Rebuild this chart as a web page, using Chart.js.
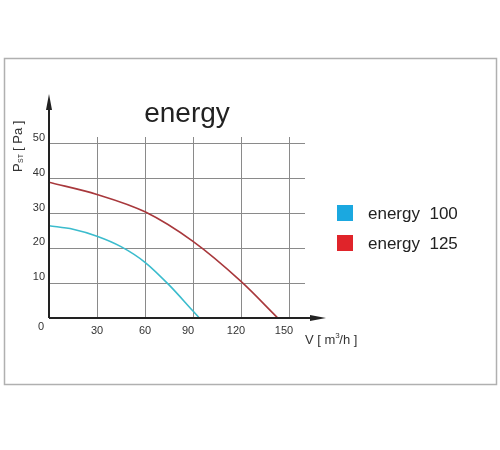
<!DOCTYPE html>
<html>
<head>
<meta charset="utf-8">
<script src="https://cdn.jsdelivr.net/npm/chart.js@4"></script>
<style>
  body { margin: 0; background: #fff; }
  #wrap { position: relative; width: 500px; height: 450px; }
</style>
</head>
<body>
<div id="wrap"><canvas id="fanChart" width="500" height="450"></canvas></div>
<script>
// Curve data
const seriesNames = ['energy  100', 'energy  125'];
const flow100 = [0, 15, 30, 45, 60, 75, 90, 94];
const press100 = [26.5, 25.5, 23.5, 20.5, 16, 9.5, 2, 0];
const flow125 = [0, 30, 60, 90, 120, 143];
const press125 = [39, 35.5, 30.5, 22, 10.5, 0];
const xTicks = [0, 30, 60, 90, 120, 150];
const yTicks = [0, 10, 20, 30, 40, 50];

const font = '"Liberation Sans", Arial, sans-serif';

// Frame, arrows, labels and legend drawn on the canvas
const decorations = {
  id: 'decorations',
  beforeDraw(chart) {
    const c = chart.ctx;
    c.save();
    c.strokeStyle = '#b0b0b0';
    c.lineWidth = 1.5;
    c.strokeRect(4.5, 58.5, 492, 326);
    c.restore();
  },
  afterDraw(chart) {
    const c = chart.ctx, xs = chart.scales.x, ys = chart.scales.y;
    const x0 = xs.getPixelForValue(0), y0 = ys.getPixelForValue(0);
    c.save();
    c.strokeStyle = '#222'; c.fillStyle = '#222'; c.lineWidth = 2;
    c.beginPath(); c.moveTo(x0, y0); c.lineTo(x0, 100); c.stroke();
    c.beginPath(); c.moveTo(x0, y0); c.lineTo(318, y0); c.stroke();
    c.beginPath(); c.moveTo(x0 - 3, 110); c.lineTo(x0, 94); c.lineTo(x0 + 3, 110); c.fill();
    c.beginPath(); c.moveTo(310, y0 - 3); c.lineTo(326, y0); c.lineTo(310, y0 + 3); c.fill();

    c.font = '11px ' + font;
    c.fillStyle = '#333';
    c.textAlign = 'right'; c.textBaseline = 'middle';
    yTicks.slice(1).forEach(v => c.fillText(String(v), x0 - 4, ys.getPixelForValue(v) - 6));
    c.textAlign = 'center'; c.textBaseline = 'top';
    xTicks.slice(1).forEach(v => c.fillText(String(v), xs.getPixelForValue(v) + (v >= 90 ? -5 : 0), y0 + 7));
    c.fillText('0', 41, y0 + 3);

    c.font = '13px ' + font;
    c.textAlign = 'left';
    c.fillText('V [ m', 305, 334);
    let w = c.measureText('V [ m').width;
    c.font = '8px ' + font; c.fillText('3', 305 + w, 332);
    c.font = '13px ' + font; c.fillText('/h ]', 305 + w + 4, 334);

    c.save();
    c.translate(18, 172); c.rotate(-Math.PI / 2);
    c.textBaseline = 'middle';
    c.font = '13px ' + font; c.fillText('P', 0, 0);
    c.font = '7px ' + font; c.fillText('ST', 9, 3);
    c.font = '13px ' + font; c.fillText('[ Pa ]', 21, 0);
    c.restore();

    c.font = '28px ' + font; c.fillStyle = '#222';
    c.textAlign = 'center'; c.textBaseline = 'middle';
    c.fillText('energy', 187, 114);

    const colors = ['#1ba8e0', '#e0242a'];
    c.font = '17px ' + font; c.textAlign = 'left';
    seriesNames.forEach((name, i) => {
      const y = 205 + i * 30;
      c.fillStyle = colors[i];
      c.fillRect(337, y, 16, 16);
      c.fillStyle = '#222';
      c.fillText(name, 368, y + 9);
    });
    c.restore();
  }
};

new Chart(document.getElementById('fanChart').getContext('2d'), {
  type: 'line',
  data: {
    datasets: [
      { label: seriesNames[0], data: flow100.map((x, i) => ({ x, y: press100[i] })),
        borderColor: '#3bbccd', borderWidth: 1.6, pointRadius: 0, cubicInterpolationMode: 'monotone' },
      { label: seriesNames[1], data: flow125.map((x, i) => ({ x, y: press125[i] })),
        borderColor: '#a8383c', borderWidth: 1.6, pointRadius: 0, cubicInterpolationMode: 'monotone' }
    ]
  },
  options: {
    responsive: false,
    animation: false,
    layout: { padding: { left: 49, top: 137, right: 195, bottom: 132 } },
    plugins: { legend: { display: false }, tooltip: { enabled: false } },
    scales: {
      x: {
        type: 'linear', min: 0, max: 160,
        afterBuildTicks: axis => { axis.ticks = xTicks.map(v => ({ value: v })); },
        ticks: { display: false },
        grid: { color: '#8a8a8a', lineWidth: 1, drawTicks: false },
        border: { display: false }
      },
      y: {
        min: 0, max: 52,
        afterBuildTicks: axis => { axis.ticks = yTicks.map(v => ({ value: v })); },
        ticks: { display: false },
        grid: { color: '#8a8a8a', lineWidth: 1, drawTicks: false },
        border: { display: false }
      }
    }
  },
  plugins: [decorations]
});
</script>
</body>
</html>
